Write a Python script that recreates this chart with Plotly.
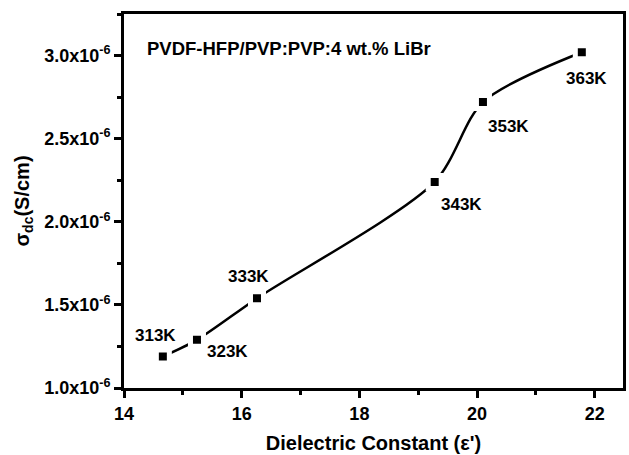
import plotly.graph_objects as go

eps = [14.66, 15.24, 16.26, 19.28, 20.10, 21.78]
sigma = [1.19e-6, 1.29e-6, 1.54e-6, 2.24e-6, 2.72e-6, 3.02e-6]
temps = ["313K", "323K", "333K", "343K", "353K", "363K"]
y_tickvals = [1.0e-6, 1.5e-6, 2.0e-6, 2.5e-6, 3.0e-6]
y_ticktext = ["1.0x10<sup>-6</sup>", "1.5x10<sup>-6</sup>", "2.0x10<sup>-6</sup>",
              "2.5x10<sup>-6</sup>", "3.0x10<sup>-6</sup>"]
x_tickvals = [14, 16, 18, 20, 22]
label_offsets = [(-7, 21), (31, -12), (-8, 22), (27, -23), (26, -24), (5, -26)]

FONT = "Liberation Sans, Arial, sans-serif"

fig = go.Figure()
fig.add_trace(go.Scatter(x=eps, y=sigma, mode="lines",
                         line=dict(color="black", width=2.5, shape="spline", smoothing=0.8),
                         hoverinfo="skip", showlegend=False))
fig.add_trace(go.Scatter(x=eps, y=sigma, mode="markers",
                         marker=dict(symbol="square", size=13, color="black",
                                     line=dict(color="white", width=5)),
                         showlegend=False))

for x, y, t, (dx, dy) in zip(eps, sigma, temps, label_offsets):
    fig.add_annotation(x=x, y=y, text=t, showarrow=False, xshift=dx, yshift=dy,
                       font=dict(family=FONT, size=17, color="black", weight="bold"))

fig.add_annotation(x=0.043, xref="paper", y=3.04e-6, yref="y", xanchor="left",
                   text="PVDF-HFP/PVP:PVP:4 wt.% LiBr", showarrow=False,
                   font=dict(family=FONT, size=18.5, color="black", weight="bold"))

axis_common = dict(showline=True, linecolor="black", linewidth=3, mirror=True,
                   ticks="outside", ticklen=7, tickwidth=2.5, tickcolor="black",
                   showgrid=False, zeroline=False,
                   tickfont=dict(family=FONT, size=18, color="black", weight="bold"))

fig.update_xaxes(range=[14, 22.48], tickvals=x_tickvals,
                 minor=dict(dtick=1, tick0=15, ticks="outside", ticklen=4, tickwidth=2.5,
                            tickcolor="black", showgrid=False),
                 title=dict(text="Dielectric Constant (ε')", standoff=14,
                            font=dict(family=FONT, size=20, color="black", weight="bold")),
                 **axis_common)
fig.update_yaxes(range=[1.0e-6, 3.25e-6], tickvals=y_tickvals, ticktext=y_ticktext,
                 minor=dict(dtick=0.25e-6, tick0=1.25e-6, ticks="outside", ticklen=4,
                            tickwidth=2.5, tickcolor="black", showgrid=False),
                 title=dict(text="σ<sub>dc</sub>(S/cm)", standoff=10,
                            font=dict(family=FONT, size=20, color="black", weight="bold")),
                 **axis_common)

fig.update_layout(width=629, height=455, margin=dict(l=124, r=3, t=14, b=66),
                  plot_bgcolor="white", paper_bgcolor="white")

fig.write_html("out.html")
